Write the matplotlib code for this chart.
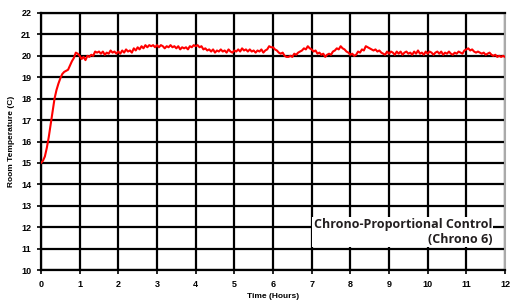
import matplotlib
matplotlib.use("Agg")
import matplotlib.pyplot as plt
import numpy as np

step_h = 0.05
temps = [
    15.0, 15.1, 15.3, 15.7, 16.2, 16.8, 17.4, 18.0, 18.4, 18.7, 18.95, 19.15, 19.25, 19.3, 19.35, 19.55, 19.75, 19.9, 20.15, 20.1,
    20.0, 19.85, 19.95, 19.8, 20.0, 19.95, 20.05, 20.0, 20.2, 20.15, 20.2, 20.1, 20.2, 20.05, 20.15, 20.1, 20.25, 20.15, 20.2, 20.1,
    20.2, 20.1, 20.25, 20.15, 20.3, 20.2, 20.25, 20.15, 20.35, 20.25, 20.4, 20.3, 20.45, 20.35, 20.5, 20.4, 20.5, 20.45, 20.5, 20.4,
    20.5, 20.4, 20.5, 20.45, 20.35, 20.45, 20.4, 20.5, 20.4, 20.45, 20.35, 20.45, 20.3, 20.4, 20.35, 20.4, 20.3, 20.45, 20.4, 20.5,
    20.45, 20.5, 20.4, 20.45, 20.3, 20.35, 20.25, 20.3, 20.2, 20.3, 20.15, 20.25, 20.2, 20.3, 20.2, 20.25, 20.15, 20.3, 20.2, 20.15,
    20.25, 20.2, 20.3, 20.2, 20.35, 20.25, 20.3, 20.2, 20.3, 20.2, 20.25, 20.15, 20.25, 20.2, 20.3, 20.15, 20.25, 20.3, 20.45, 20.4,
    20.4, 20.3, 20.25, 20.15, 20.1, 20.15, 20.0, 19.95, 19.95, 20.0, 19.95, 20.1, 20.05, 20.15, 20.2, 20.25, 20.35, 20.3, 20.45, 20.35,
    20.3, 20.2, 20.25, 20.1, 20.15, 20.05, 20.1, 19.95, 20.05, 20.1, 20.05, 20.2, 20.25, 20.35, 20.3, 20.45, 20.35, 20.3, 20.2, 20.15,
    20.05, 20.1, 20.0, 20.05, 20.2, 20.15, 20.3, 20.25, 20.45, 20.4, 20.35, 20.3, 20.25, 20.3, 20.2, 20.25, 20.15, 20.1, 20.05, 20.2,
    20.1, 20.2, 20.15, 20.05, 20.2, 20.1, 20.2, 20.05, 20.15, 20.2, 20.1, 20.15, 20.05, 20.2, 20.1, 20.25, 20.1, 20.15, 20.05, 20.2,
    20.1, 20.2, 20.15, 20.05, 20.15, 20.2, 20.1, 20.2, 20.05, 20.15, 20.1, 20.2, 20.1, 20.05, 20.15, 20.1, 20.2, 20.15, 20.1, 20.25,
    20.3, 20.35, 20.25, 20.3, 20.2, 20.15, 20.2, 20.15, 20.1, 20.15, 20.05, 20.1, 20.15, 20.05, 20.0, 20.05, 19.95, 20.0, 19.95, 20.0, 19.95,
]
hours = [i * step_h for i in range(len(temps))]
x_ticks = list(range(0, 13))
y_ticks = list(range(10, 23))
title_text = "Chrono-Proportional Control\n(Chrono 6)"

fig = plt.figure(figsize=(5.12, 3.02), dpi=100)
ax = fig.add_axes([41/512, 32/302, 464/512, 257/302])
ax.set_xlim(0, 12)
ax.set_ylim(10, 22)
ax.set_xticks(x_ticks)
ax.set_yticks(y_ticks)
ax.grid(True, color="black", linewidth=1.6)
ax.set_axisbelow(True)
ax.plot(hours, temps, color="#ff0000", linewidth=1.5, zorder=3)

for s in ["left", "bottom", "top"]:
    ax.spines[s].set_color("black")
    ax.spines[s].set_linewidth(1.6)
ax.spines["right"].set_color("#aaaaaa")
ax.spines["right"].set_linewidth(1.5)

ax.tick_params(axis="both", length=3, width=1.2, color="black", labelsize=6.5, pad=4)
for lbl in ax.get_xticklabels() + ax.get_yticklabels():
    lbl.set_fontweight("bold")
    lbl.set_family("Liberation Sans")

ax.set_xlabel("Time (Hours)", fontsize=6, fontweight="bold", family="Liberation Sans", labelpad=3)
ax.set_ylabel("Room Temperature (C)", fontsize=6, fontweight="bold", family="Liberation Sans", labelpad=4)

ax.text(492/512, (302-218)/302, title_text, transform=fig.transFigure, ha="right", va="top",
        multialignment="right", fontsize=9, fontweight="bold", family="Open Sans",
        color="#231f20", linespacing=1.2,
        bbox=dict(facecolor="white", edgecolor="none", pad=1.0), zorder=5)

fig.savefig("out.png", dpi=100)
